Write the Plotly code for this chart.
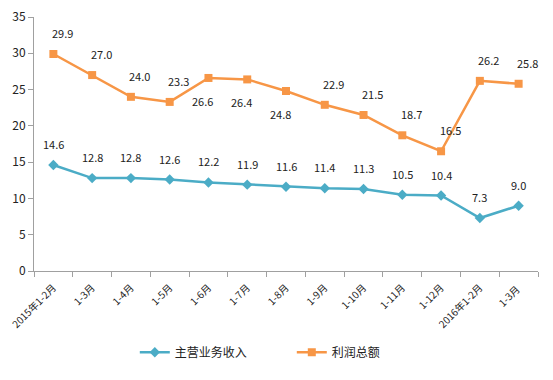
import plotly.graph_objects as go

categories = ["2015年1-2月", "1-3月", "1-4月", "1-5月", "1-6月", "1-7月", "1-8月",
              "1-9月", "1-10月", "1-11月", "1-12月", "2016年1-2月", "1-3月 "]
revenue = [14.6, 12.8, 12.8, 12.6, 12.2, 11.9, 11.6, 11.4, 11.3, 10.5, 10.4, 7.3, 9.0]
profit = [29.9, 27.0, 24.0, 23.3, 26.6, 26.4, 24.8, 22.9, 21.5, 18.7, 16.5, 26.2, 25.8]
profit_label_above = [True, True, True, True, False, False, False, True, True, True, True, True, True]
y_ticks = [0, 5, 10, 15, 20, 25, 30, 35]

BLUE = "#4BACC6"
ORANGE = "#F79646"
FONT = "Noto Sans CJK SC, Liberation Sans, sans-serif"

fig = go.Figure()
fig.add_trace(go.Scatter(
    x=categories, y=revenue, name="主营业务收入", mode="lines+markers",
    line=dict(color=BLUE, width=2.5),
    marker=dict(symbol="diamond", size=8, color=BLUE),
))
fig.add_trace(go.Scatter(
    x=categories, y=profit, name="利润总额", mode="lines+markers",
    line=dict(color=ORANGE, width=2.5),
    marker=dict(symbol="square", size=8, color=ORANGE),
))

annotations = []
for c, v in zip(categories, revenue):
    annotations.append(dict(x=c, y=v, text=f"{v:.1f}", showarrow=False,
                            yshift=21, font=dict(size=11, color="#222", family=FONT)))
for c, v, above in zip(categories, profit, profit_label_above):
    annotations.append(dict(x=c, y=v, text=f"{v:.1f}", showarrow=False,
                            yshift=21 if above else -23, xshift=9 if above else -6,
                            font=dict(size=11, color="#222", family=FONT)))

fig.update_layout(
    width=545, height=372,
    margin=dict(l=26, r=15, t=9, b=109, autoexpand=False),
    paper_bgcolor="white", plot_bgcolor="white",
    font=dict(family=FONT, size=11, color="#222"),
    showlegend=True,
    legend=dict(orientation="h", x=0.2, xanchor="left", y=-0.32, yanchor="middle",
                font=dict(size=12, family=FONT), itemwidth=30,
                entrywidth=112, entrywidthmode="pixels"),
    annotations=annotations,
    xaxis=dict(
        type="category", tickangle=-45, showgrid=False, automargin=False,
        showline=True, linecolor="#A0A0A0", linewidth=1,
        ticks="outside", tickson="boundaries", ticklen=5, tickcolor="#A0A0A0",
        tickfont=dict(size=10, family=FONT), ticklabelstandoff=6,
        range=[-0.5, len(categories) - 0.5],
    ),
    yaxis=dict(
        range=[0, 35], tickvals=y_ticks, showgrid=False, zeroline=False, automargin=False,
        showline=True, linecolor="#A0A0A0", linewidth=1,
        ticks="outside", ticklen=5, tickcolor="#A0A0A0", ticklabeloverflow="allow",
        tickfont=dict(size=12, family=FONT),
    ),
)

fig.write_html("out.html")
